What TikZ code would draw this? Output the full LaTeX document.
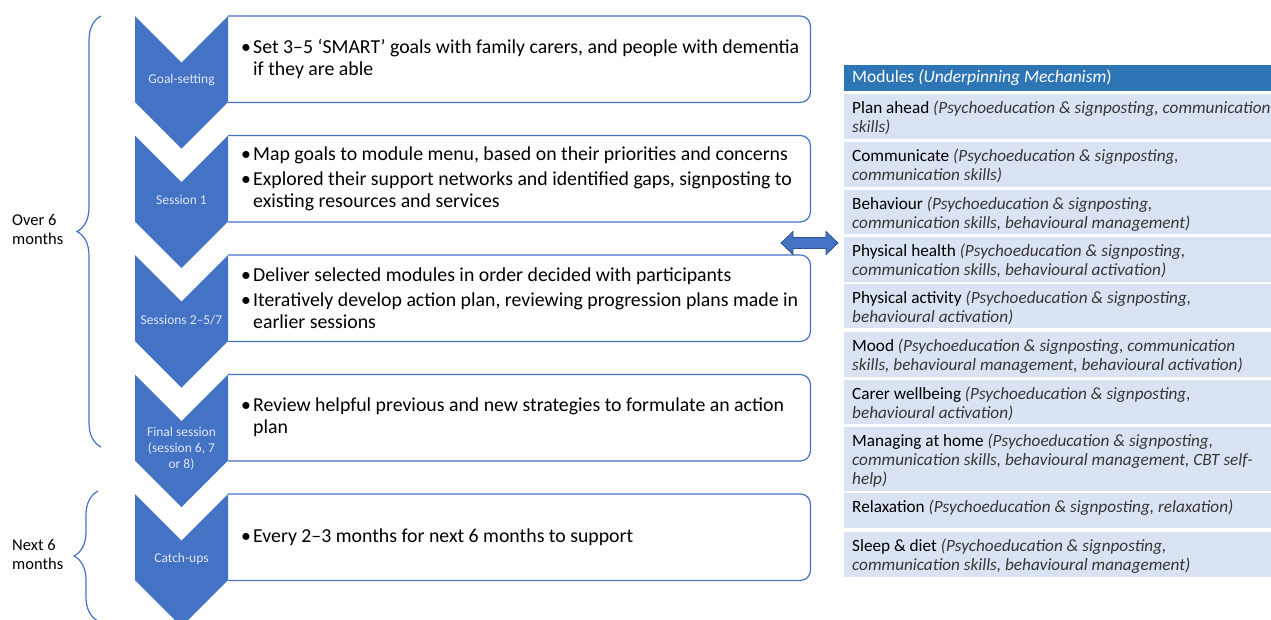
\documentclass[tikz,border=0pt]{standalone}
\usepackage{fontspec}
\setmainfont{Carlito}
\usetikzlibrary{decorations.pathreplacing,calc}

\definecolor{chevblue}{RGB}{68,114,196}
\definecolor{arrowedge}{RGB}{47,82,143}
\definecolor{headblue}{RGB}{46,117,182}
\definecolor{rowblue}{RGB}{218,227,243}
\definecolor{labwhite}{RGB}{224,231,245}
\definecolor{mechgrey}{RGB}{55,55,55}

\newcommand{\itm}{\makebox[12pt][l]{\textbullet}}
\newcommand{\cnt}{\hspace*{12pt}}
\newcommand{\mech}[1]{{\itshape\color{mechgrey}#1}}

\begin{document}
\begin{tikzpicture}[x=1pt,y=-1pt,
  chevlab/.style={text=labwhite,font=\fontsize{13.5}{16}\selectfont,align=center,inner sep=0},
  stepbox/.style={anchor=north west,minimum width=582pt,minimum height=86pt,inner sep=0},
  steptext/.style={anchor=west,align=left,inner sep=0,font=\fontsize{19.8}{22}\selectfont},
  boxline/.style={draw=chevblue,line width=1.2pt,rounded corners=10pt},
  rowbox/.style={fill=rowblue,anchor=north west,minimum width=427pt,inner sep=0},
  rowtext/.style={anchor=north west,align=left,inner sep=0,font=\fontsize{17.2}{19}\selectfont},
  sidelab/.style={anchor=west,align=left,inner sep=0,font=\fontsize{16.5}{19}\selectfont},
  bracket/.style={draw=chevblue,line width=1.2pt,decorate,decoration={brace,amplitude=24pt}}]

\useasboundingbox (0,0) rectangle (1271,619);

% session boxes
\node[stepbox] (box0) at (228,16) {};
\node[stepbox] (box1) at (228,135.5) {};
\node[stepbox] (box2) at (228,255) {};
\node[stepbox] (box3) at (228,374.5) {};
\node[stepbox] (box4) at (228,494) {};

\node[steptext] (txt0) at ($(box0.west)+(13,0)$) {\itm Set 3–5 ‘SMART’ goals with family carers, and people with dementia\\\cnt if they are able};
\node[steptext] (txt1) at ($(box1.west)+(13,0)$) {\itm Map goals to module menu, based on their priorities and concerns\\[3pt]\itm Explored their support networks and identified gaps, signposting to\\\cnt existing resources and services};
\node[steptext] (txt2) at ($(box2.west)+(13,0)$) {\itm Deliver selected modules in order decided with participants\\[3pt]\itm Iteratively develop action plan, reviewing progression plans made in\\\cnt earlier sessions};
\node[steptext] (txt3) at ($(box3.west)+(13,0)$) {\itm Review helpful previous and new strategies to formulate an action\\\cnt plan};
\node[steptext] (txt4) at ($(box4.west)+(13,0)$) {\itm Every 2–3 months for next 6 months to support};

\foreach \i in {0,...,4}{
  \pgfmathsetmacro{\chevtop}{16+119.5*\i}
  \draw[boxline] (box\i.north west) -- (box\i.north east) -- (box\i.south east) -- (box\i.south west);
  \fill[chevblue] (135,\chevtop) -- (181.5,\chevtop+46.5) -- (228,\chevtop) -- (228,\chevtop+86)
    -- (181.5,\chevtop+132.5) -- (135,\chevtop+86) -- cycle;
}

\node[chevlab] (lab0) at (181.5,80) {Goal-setting};
\node[chevlab] (lab1) at (181.5,200) {Session 1};
\node[chevlab] (lab2) at (181.5,320) {Sessions 2–5/7};
\node[chevlab] (lab3) at (181.5,449) {Final session\\(session 6, 7\\or 8)};
\node[chevlab] (lab4) at (181.5,559) {Catch-ups};

% time spans
\coordinate (overtop) at (101,16);
\coordinate (overbot) at (101,447);
\coordinate (nexttop) at (98,491);
\coordinate (nextbot) at (98,621);
\draw[bracket] (overbot) -- (overtop);
\draw[bracket] (nextbot) -- (nexttop);
\node[sidelab] (over) at (12,229.5) {Over 6\\months};
\node[sidelab] (next) at (12,554.5) {Next 6\\months};

% double arrow
\coordinate (arrl) at (781,243);
\coordinate (arrr) at (838,243);
\filldraw[fill=chevblue,draw=arrowedge,line width=0.8pt] (arrl) -- ++(12,-11.5) -- ++(0,6)
  -- ($(arrr)+(-12,-5.5)$) -- ++(0,-6) -- (arrr) -- ++(-12,11.5) -- ++(0,-6)
  -- ($(arrl)+(12,5.5)$) -- ++(0,6) -- cycle;

% modules table
\node[fill=headblue,anchor=north west,minimum width=427pt,minimum height=25.5pt,inner sep=0] (head) at (844,65) {};
\node[anchor=west,inner sep=0,text=white,font=\fontsize{17.5}{19}\selectfont] (headtxt) at ($(head.west)+(8,0)$) {Modules \textit{(Underpinning Mechanism})};

\foreach \n/\rtop/\rh in {1/94/45,2/142/45,3/190/44,4/237/45,5/284/44,6/332/45,7/380/44,8/427/64,9/493/35,10/532/45}
  \node[rowbox,minimum height=\rh pt] (row\n) at (844,\rtop) {};

\node[rowtext] (mod1) at ($(row1.north west)+(8,7)$) {Plan ahead \mech{(Psychoeducation \& signposting, communication}\\\mech{skills)}};
\node[rowtext] (mod2) at ($(row2.north west)+(8,7)$) {Communicate \mech{(Psychoeducation \& signposting,}\\\mech{communication skills)}};
\node[rowtext] (mod3) at ($(row3.north west)+(8,7)$) {Behaviour \mech{(Psychoeducation \& signposting,}\\\mech{communication skills, behavioural management)}};
\node[rowtext] (mod4) at ($(row4.north west)+(8,7)$) {Physical health \mech{(Psychoeducation \& signposting,}\\\mech{communication skills, behavioural activation)}};
\node[rowtext] (mod5) at ($(row5.north west)+(8,7)$) {Physical activity \mech{(Psychoeducation \& signposting,}\\\mech{behavioural activation)}};
\node[rowtext] (mod6) at ($(row6.north west)+(8,7)$) {Mood \mech{(Psychoeducation \& signposting, communication}\\\mech{skills, behavioural management, behavioural activation)}};
\node[rowtext] (mod7) at ($(row7.north west)+(8,7)$) {Carer wellbeing \mech{(Psychoeducation \& signposting,}\\\mech{behavioural activation)}};
\node[rowtext] (mod8) at ($(row8.north west)+(8,7)$) {Managing at home \mech{(Psychoeducation \& signposting,}\\\mech{communication skills, behavioural management, CBT self-}\\\mech{help)}};
\node[rowtext] (mod9) at ($(row9.north west)+(8,7)$) {Relaxation \mech{(Psychoeducation \& signposting, relaxation)}};
\node[rowtext] (mod10) at ($(row10.north west)+(8,7)$) {Sleep \& diet \mech{(Psychoeducation \& signposting,}\\\mech{communication skills, behavioural management)}};
\end{tikzpicture}
\end{document}
